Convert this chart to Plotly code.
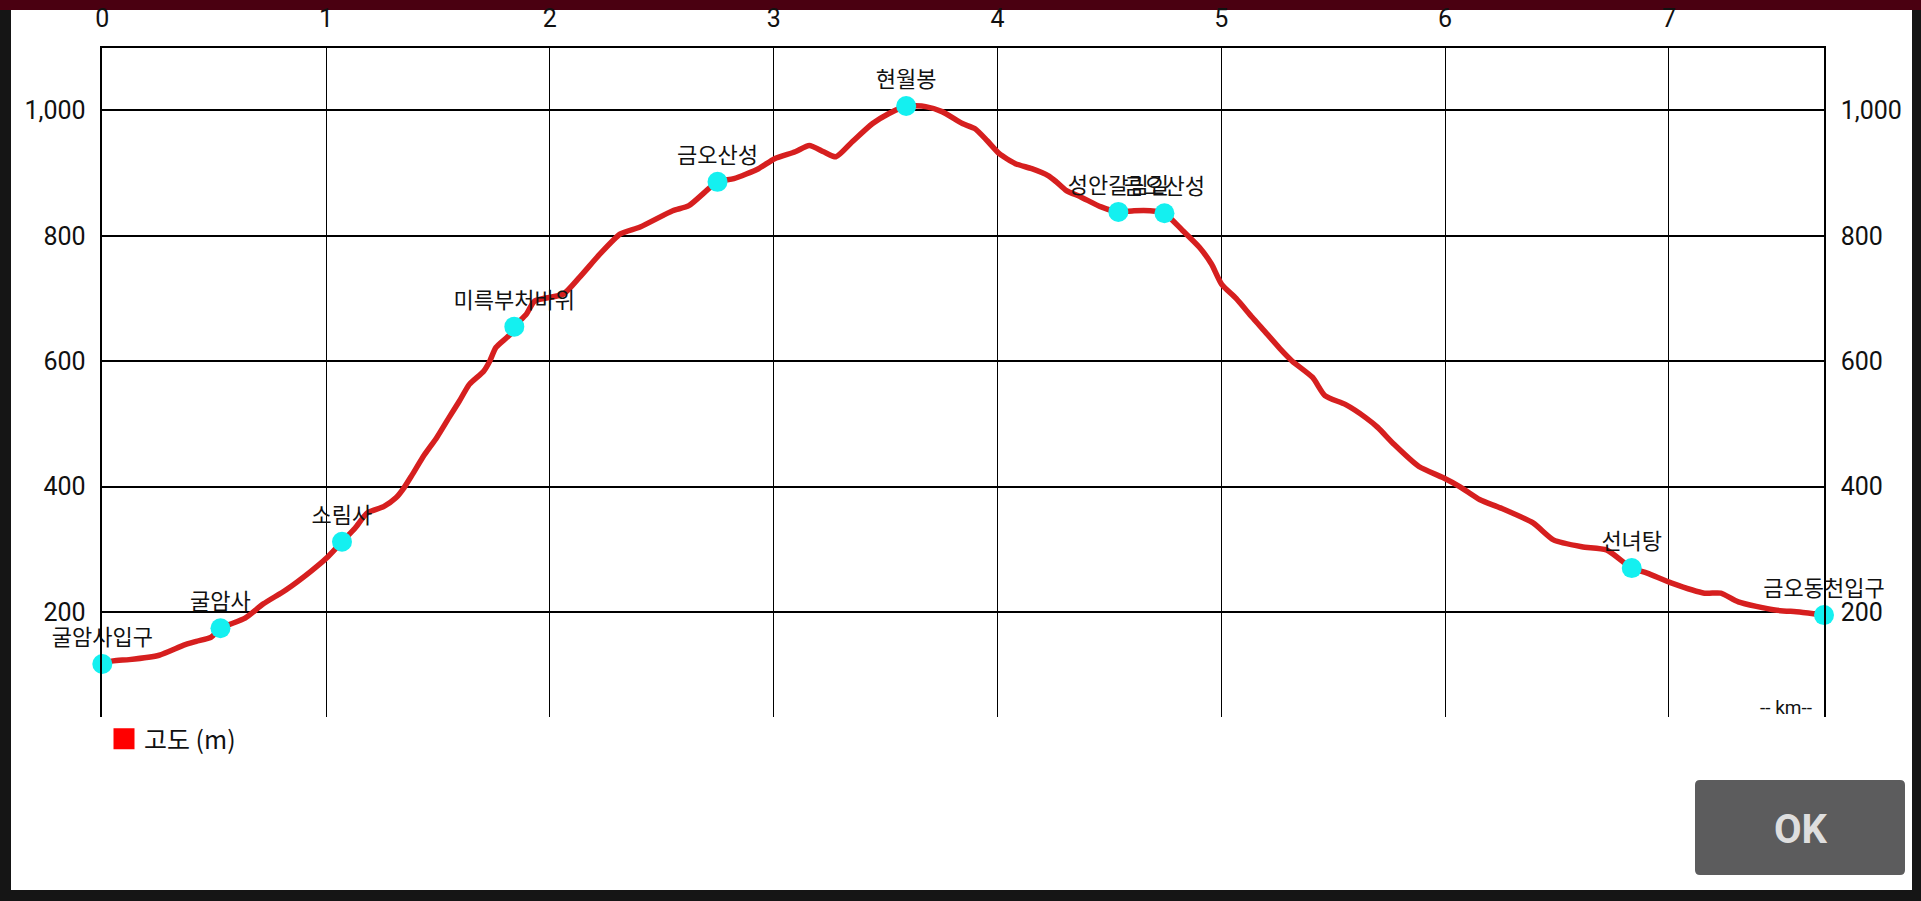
import plotly.graph_objects as go

# ---- data ----
dist_km = [0, 0.049, 0.12, 0.254, 0.364, 0.42, 0.487, 0.528, 0.638, 0.72, 0.82, 0.929,
           1.002, 1.071, 1.13, 1.184, 1.257, 1.312, 1.348, 1.385, 1.44, 1.494, 1.549,
           1.595, 1.64, 1.704, 1.731, 1.759, 1.823, 1.841, 1.895, 1.932, 2.06, 2.133,
           2.224, 2.315, 2.403, 2.549, 2.621, 2.749, 2.822, 2.932, 3.004, 3.096, 3.159,
           3.223, 3.278, 3.351, 3.442, 3.515, 3.592, 3.679, 3.752, 3.843, 3.898, 3.953,
           4.008, 4.08, 4.153, 4.226, 4.263, 4.308, 4.372, 4.463, 4.54, 4.61, 4.682,
           4.746, 4.828, 4.901, 4.956, 5.001, 5.066, 5.138, 5.193, 5.262, 5.317, 5.408,
           5.463, 5.554, 5.645, 5.7, 5.773, 5.883, 5.992, 6.065, 6.156, 6.247, 6.393,
           6.484, 6.611, 6.721, 6.834, 6.903, 7.013, 7.159, 7.232, 7.31, 7.474, 7.584,
           7.693]
elev_m = [117, 122, 124, 131, 147, 153, 160, 174, 190, 213, 235, 264,
          286, 312, 334, 358, 368, 382, 398, 419, 451, 478, 510,
          536, 563, 584, 600, 622, 643, 655, 675, 696, 707, 734,
          771, 803, 814, 840, 848, 886, 891, 907, 923, 934, 944,
          934, 926, 950, 979, 995, 1007, 1006, 998, 979, 971, 952,
          931, 915, 907, 896, 886, 872, 862, 846, 838, 840, 840,
          836, 808, 782, 755, 723, 700, 670, 648, 620, 600, 574,
          545, 531, 510, 494, 467, 432, 414, 400, 379, 366, 342,
          315, 304, 299, 270, 262, 246, 230, 230, 216, 203, 200,
          195]

wp_names = ["굴암사입구", "굴암사", "소림사", "미륵부처바위", "금오산성", "현월봉",
            "성안갈림길", "금오산성", "선녀탕", "금오동천입구"]
wp_km = [0, 0.528, 1.071, 1.841, 2.749, 3.592, 4.54, 4.746, 6.834, 7.693]
wp_elev = [117, 174, 312, 655, 886, 1007, 838, 836, 270, 195]

x_ticks = [0, 1, 2, 3, 4, 5, 6, 7]
y_ticks = [200, 400, 600, 800, 1000]
x_range = [0, 7.693]
y_range = [32, 1099]

series_name = "고도 (m)"
unit_label = "-- km--"

# ---- layout geometry (pixels) ----
W, H = 1921, 901
def px(x):
    return x / W
def py(y):
    return 1 - y / H

KR = "Noto Sans CJK KR"

fig = go.Figure()

fig.add_trace(go.Scatter(
    x=dist_km, y=elev_m, mode="lines",
    line=dict(color="#d61f1f", width=5.5, shape="spline", smoothing=0.6),
    showlegend=False, hoverinfo="skip", cliponaxis=False))

fig.add_trace(go.Scatter(
    x=wp_km, y=wp_elev, mode="markers+text", text=wp_names,
    textposition="top center",
    textfont=dict(family=KR, size=22, color="#111111"),
    marker=dict(color="#14f0f0", size=20),
    showlegend=False, hoverinfo="skip", cliponaxis=False))

# legend entry (square swatch)
fig.add_trace(go.Scatter(
    x=[None], y=[None], mode="markers", name=series_name,
    marker=dict(symbol="square", color="#ff0000", size=16,
                line=dict(color="#ff0000", width=5)),
    showlegend=True))

# invisible trace on the right-hand axis
fig.add_trace(go.Scatter(x=[None], y=[None], yaxis="y2", showlegend=False,
                         hoverinfo="skip"))

axis_font = dict(family="Roboto", size=25, color="#111111")

# rounded OK button path
bx0, bx1, by0, by1, r = 1695, 1905, 780, 875, 5
button_path = (
    f"M {px(bx0 + r)},{py(by0)} L {px(bx1 - r)},{py(by0)} "
    f"Q {px(bx1)},{py(by0)} {px(bx1)},{py(by0 + r)} "
    f"L {px(bx1)},{py(by1 - r)} Q {px(bx1)},{py(by1)} {px(bx1 - r)},{py(by1)} "
    f"L {px(bx0 + r)},{py(by1)} Q {px(bx0)},{py(by1)} {px(bx0)},{py(by1 - r)} "
    f"L {px(bx0)},{py(by0 + r)} Q {px(bx0)},{py(by0)} {px(bx0 + r)},{py(by0)} Z"
)

fig.update_layout(
    width=W, height=H,
    margin=dict(l=0, r=0, t=0, b=0, pad=0, autoexpand=False),
    paper_bgcolor="#151515",
    plot_bgcolor="white",
    font=dict(family=KR),
    xaxis=dict(domain=[px(102.3), px(1824)], range=x_range, side="top",
               tickvals=x_ticks, showgrid=True, gridcolor="black", gridwidth=1.2,
               showline=True, linecolor="black", linewidth=1.5, zeroline=False,
               tickfont=axis_font, ticks="", ticklabelstandoff=10,
               automargin=False),
    yaxis=dict(domain=[py(717.3), py(48.3)], range=y_range, tickvals=y_ticks,
               tickformat=",d", showgrid=True, gridcolor="black", gridwidth=1.5,
               showline=True, linecolor="black", linewidth=1.5, zeroline=False,
               tickfont=axis_font, ticks="", ticklabelstandoff=10,
               automargin=False),
    yaxis2=dict(overlaying="y", side="right", range=y_range, tickvals=y_ticks,
                tickformat=",d", showgrid=False, showline=True, linecolor="black",
                linewidth=1.5, zeroline=False, tickfont=axis_font, ticks="",
                ticklabelstandoff=10, automargin=False),
    legend=dict(x=px(104), xanchor="left", y=py(739), yanchor="middle",
                orientation="h", bgcolor="rgba(0,0,0,0)",
                font=dict(family=KR, size=25, color="#111111")),
    shapes=[
        dict(type="rect", xref="paper", yref="paper", x0=0, x1=1, y0=py(10), y1=1,
             fillcolor="#4a0011", line=dict(width=0), layer="below"),
        dict(type="rect", xref="paper", yref="paper", x0=px(11), x1=px(1912),
             y0=py(890), y1=py(10), fillcolor="white", line=dict(width=0),
             layer="below"),
        dict(type="path", xref="paper", yref="paper", path=button_path,
             fillcolor="#5c5c5d", line=dict(width=0), layer="above"),
    ],
    annotations=[
        dict(text=unit_label, xref="paper", yref="paper", x=px(1814), y=py(707),
             xanchor="right", yanchor="middle", showarrow=False,
             font=dict(family="Roboto", size=19, color="#111111")),
        dict(text="<b>OK</b>", xref="paper", yref="paper", x=px(1801), y=py(829),
             xanchor="center", yanchor="middle", showarrow=False,
             font=dict(family="Roboto", size=40, color="#dedede")),
    ],
)

fig.write_html("out.html", config={"displayModeBar": False},
               post_script="document.body.style.margin='0';document.body.style.overflow='hidden';")
